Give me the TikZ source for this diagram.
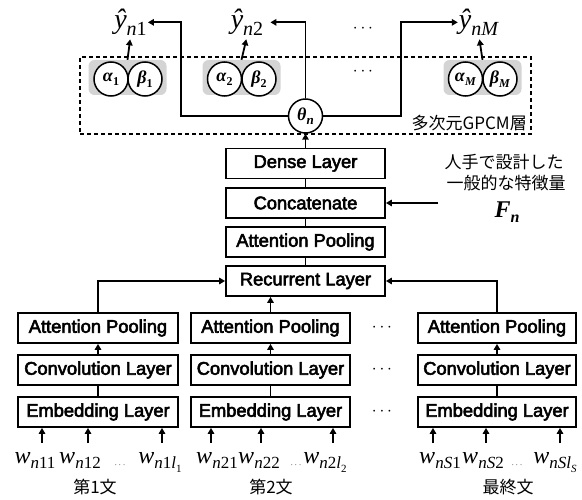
\documentclass[tikz,border=0pt]{standalone}
\usepackage{fontspec}
\setmainfont{Liberation Serif}
\newfontfamily\lblfont{Liberation Sans}[FakeBold=3]
\newfontfamily\jpfont{Noto Sans CJK JP}
\usetikzlibrary{arrows.meta}

% lowered subscript set in its own size
\newcommand\lowsub[2][17]{\raisebox{-0.22em}{\fontsize{#1}{#1}\selectfont #2}}
\newcommand\bi[1]{\textbf{\textit{#1}}}

\tikzset{
  x=1pt, y=-1pt,
  wire/.style={line width=1.8pt},
  arr/.style={wire, -{Triangle[length=6pt,width=6.5pt]}},
  layer/.style={draw, line width=1.8pt, minimum height=30pt, inner sep=0pt,
    font=\lblfont\fontsize{18.3}{18.3}\selectfont},
  pairbg/.style={fill=black!17, rounded corners=6pt, minimum width=78pt,
    minimum height=35pt, inner sep=0pt},
  unit/.style={circle, draw, fill=white, line width=1.5pt, minimum size=34pt,
    inner sep=0pt, font=\fontsize{18}{18}\selectfont},
  outlbl/.style={anchor=base, inner sep=1pt, font=\fontsize{28}{28}\selectfont},
  wlbl/.style={anchor=base, inner sep=0pt, font=\fontsize{24}{24}\selectfont},
  jp/.style={inner sep=0pt, font=\jpfont\fontsize{17}{17}\selectfont},
  dotsl/.style={inner sep=0pt, font=\fontsize{17}{17}\selectfont},
  smalldots/.style={inner sep=0pt, font=\fontsize{9}{9}\selectfont},
}

\begin{document}
\begin{tikzpicture}
\useasboundingbox (0,0) rectangle (582,500);

% ---- multidimensional GPCM layer ----
\node[draw, line width=1.8pt, dash pattern=on 4pt off 3pt,
      minimum width=451pt, minimum height=77pt, inner sep=0pt] (gpcm) at (305.5,95.5) {};
\node[jp, anchor=east] (gpcmlbl) at (527,123) {多次元GPCM層};

\node[pairbg] (g1) at (127.5,77.5) {};
\node[pairbg] (g2) at (241.5,77.5) {};
\node[pairbg] (gM) at (482.5,77.5) {};

\node[unit] (a1) at (111,79) {\bi{α}\lowsub[12]{\textbf{1}}};
\node[unit] (b1) at (145,79) {\bi{β}\lowsub[12]{\textbf{1}}};
\node[unit] (a2) at (224.5,79) {\bi{α}\lowsub[12]{\textbf{2}}};
\node[unit] (b2) at (259,79) {\bi{β}\lowsub[12]{\textbf{2}}};
\node[unit] (aM) at (465.5,79) {\bi{α}\lowsub[12]{\bi{M}}};
\node[unit] (bM) at (500,79) {\bi{β}\lowsub[12]{\bi{M}}};

\node[unit] (th) at (305.5,116) {\bi{θ}\lowsub[13]{\bi{n}}};

\node[dotsl] (dt1) at (363,29) {$\cdots$};
\node[dotsl] (dt2) at (363,72) {$\cdots$};

% ---- outputs ----
\node[outlbl] (y1) at (130.5,29) {\textit{ŷ}\lowsub[20]{\textit{n}1}};
\node[outlbl] (y2) at (247,29) {\textit{ŷ}\lowsub[20]{\textit{n}2}};
\node[outlbl] (yM) at (479,29) {\textit{ŷ}\lowsub[20]{\textit{nM}}};

\draw[arr, shorten >=3pt] (g1.north) -- (y1.south);
\draw[arr, shorten >=3pt] (g2.north) -- (y2.south);
\draw[arr, shorten >=3pt] (gM.north) -- (yM.south);

\coordinate (kl) at (181,116);
\coordinate (kr) at (401,116);
\draw[arr] (th.west) -- (kl) |- (y1.east);
\draw[arr, shorten >=6pt] (th.north) |- (y2.east);
\draw[arr] (th.east) -- (kr) |- (yM.west);

% ---- central stack ----
\node[layer, minimum width=159pt] (dense)  at (305.5,163.5) {Dense Layer};
\node[layer, minimum width=159pt] (concat) at (305.5,203)   {Concatenate};
\node[layer, minimum width=159pt] (apool)  at (305.5,242)   {Attention Pooling};
\node[layer, minimum width=159pt] (rec)    at (305.5,281)   {Recurrent Layer};

\draw[arr] (dense.north) -- (th.south);
\draw[wire] (concat.north) -- (dense.south);
\draw[wire] (apool.north) -- (concat.south);
\draw[wire] (rec.north) -- (apool.south);

% hand-crafted features
\node[jp] (feat1) at (504,162) {人手で設計した};
\node[jp] (feat2) at (506,183) {一般的な特徴量};
\node[inner sep=0pt, font=\fontsize{24}{24}\selectfont] (fn) at (507,212) {\bi{F}\lowsub[16]{\bi{n}}};
\coordinate (fsrc) at (438,203);
\draw[arr] (fsrc) -- (concat.east);

% ---- sentence encoders ----
\foreach \c/\x/\w in {1/98/160, 2/270.5/159, 3/497/158}{
  \node[layer, minimum width=\w pt] (att\c)  at (\x,328) {Attention Pooling};
  \node[layer, minimum width=\w pt] (conv\c) at (\x,370) {Convolution Layer};
  \node[layer, minimum width=\w pt] (emb\c)  at (\x,412) {Embedding Layer};
  \draw[arr] (conv\c.north) -- (att\c.south);
  \draw[wire] (emb\c.north) -- (conv\c.south);
}
\draw[arr] (att1.north) |- (rec.west);
\draw[arr] (att2.north) -- (att2.north |- rec.south);
\draw[arr] (att3.north) |- (rec.east);

\node[dotsl] (dm1) at (382,328) {$\cdots$};
\node[dotsl] (dm2) at (382,370) {$\cdots$};
\node[dotsl] (dm3) at (382,412) {$\cdots$};

% ---- word inputs ----
\foreach \n/\x in {i11/42, i12/88, i13/162, i21/211, i22/261, i23/333, i31/433, i32/486, i33/560}{
  \coordinate (\n) at (\x,443);
}
\foreach \n/\c in {i11/1, i12/1, i13/1, i21/2, i22/2, i23/2, i31/3, i32/3, i33/3}{
  \draw[arr] (\n) -- (\n |- emb\c.south);
}

\node[wlbl] (w11) at (35,463) {\textit{w}\lowsub{\textit{n}11}};
\node[wlbl] (w12) at (80,463) {\textit{w}\lowsub{\textit{n}12}};
\node[wlbl] (w13) at (160,463) {\textit{w}\lowsub{\textit{n}1\textit{l}\lowsub[11]{1}}};
\node[wlbl] (w21) at (217,463) {\textit{w}\lowsub{\textit{n}21}};
\node[wlbl] (w22) at (259,463) {\textit{w}\lowsub{\textit{n}22}};
\node[wlbl] (w23) at (325,463) {\textit{w}\lowsub{\textit{n}2\textit{l}\lowsub[11]{2}}};
\node[wlbl] (w31) at (440,463) {\textit{w}\lowsub{\textit{nS}1}};
\node[wlbl] (w32) at (483,463) {\textit{w}\lowsub{\textit{nS}2}};
\node[wlbl] (w33) at (555,463) {\textit{w}\lowsub{\textit{nSl}\lowsub[11]{\textit{S}}}};

\node[smalldots] (e1) at (120,465) {$\cdots$};
\node[smalldots] (e2) at (296,465) {$\cdots$};
\node[smalldots] (e3) at (517,465) {$\cdots$};

\node[jp] (s1) at (95,487) {第1文};
\node[jp] (s2) at (271,487) {第2文};
\node[jp] (s3) at (508,487) {最終文};
\end{tikzpicture}
\end{document}
